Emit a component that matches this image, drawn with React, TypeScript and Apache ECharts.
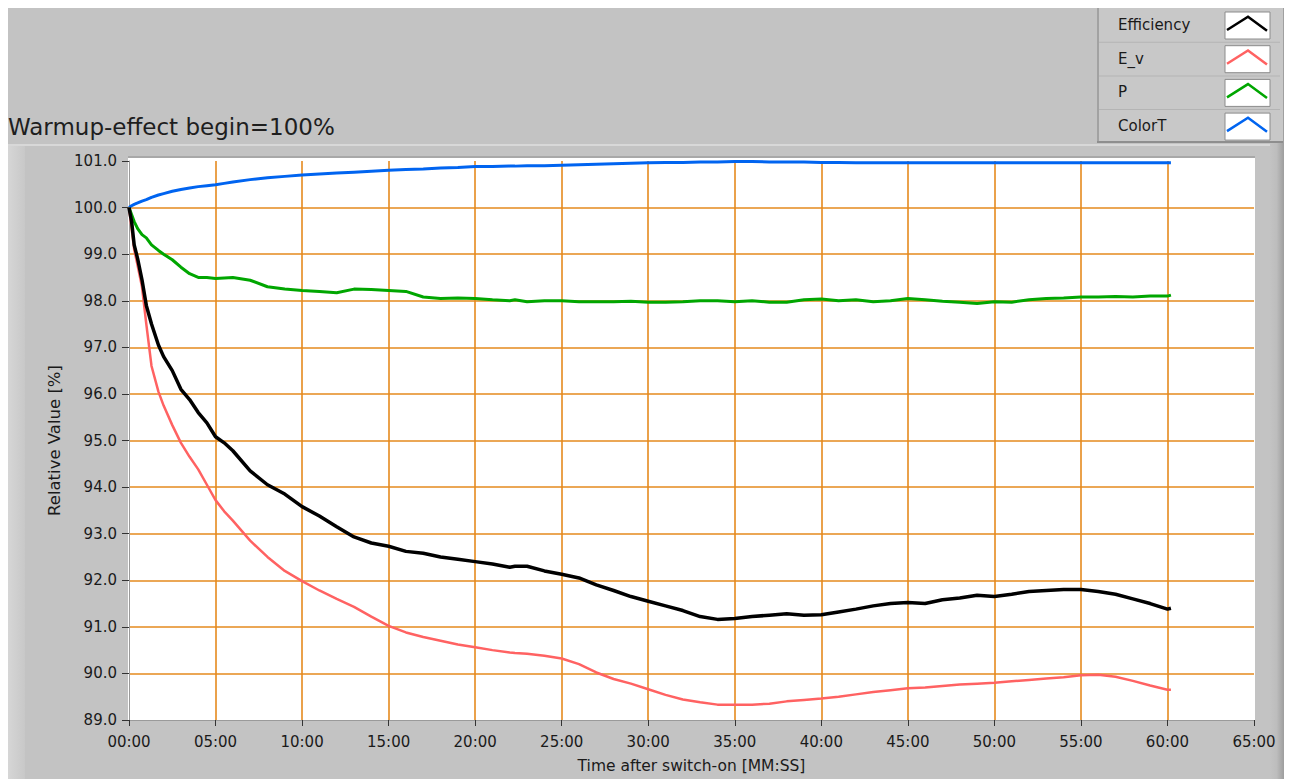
import React, { useEffect, useRef } from "react";
import * as echarts from "echarts";

// ---- data (minutes after switch-on) ----
const times = [
  0, 0.15, 0.3, 0.5, 0.75, 1, 1.3, 1.7, 2, 2.5, 3, 3.5, 4, 4.5, 5, 5.5, 6,
  7, 8, 9, 10, 11, 12, 13, 14, 15, 16, 17, 18, 19, 20, 21, 22,
  22.3,
  23, 24, 25, 26, 27, 28, 29, 30, 31, 32, 33, 34, 35, 36, 37, 38, 39, 40, 41, 42,
  43, 44, 45, 46, 47, 48, 49, 50, 51, 52, 53, 54, 55, 56, 57, 58, 59, 60,
  60.2,
];

const efficiency = [
  100, 99.7, 99.2, 98.9, 98.45, 97.9, 97.5, 97.05, 96.8, 96.5, 96.1, 95.88, 95.6, 95.38, 95.08, 94.95, 94.78,
  94.35, 94.05, 93.85, 93.58, 93.38, 93.15, 92.93, 92.8, 92.73, 92.62, 92.58, 92.5, 92.45, 92.4, 92.35, 92.28,
  92.3,
  92.3, 92.2, 92.13, 92.05, 91.9, 91.78, 91.65, 91.55, 91.45, 91.35, 91.22, 91.16, 91.18, 91.22, 91.25, 91.28, 91.25, 91.26, 91.32, 91.38,
  91.45, 91.5, 91.52, 91.5, 91.58, 91.62, 91.68, 91.65, 91.7, 91.76, 91.78, 91.8, 91.8, 91.76, 91.7, 91.6, 91.5, 91.38,
  91.4,
];

const eV = [
  100, 99.55, 99.1, 98.75, 98.3, 97.5, 96.6, 96.05, 95.75, 95.33, 94.95, 94.65, 94.38, 94.05, 93.72, 93.48, 93.28,
  92.85, 92.5, 92.2, 91.98, 91.78, 91.6, 91.43, 91.22, 91.02, 90.88, 90.78, 90.7, 90.62, 90.56, 90.5, 90.45,
  90.44,
  90.42, 90.38, 90.32, 90.2, 90.02, 89.88, 89.78, 89.66, 89.54, 89.44, 89.38, 89.33, 89.33, 89.33, 89.35, 89.4, 89.43, 89.46, 89.5, 89.55,
  89.6, 89.64, 89.68, 89.7, 89.73, 89.76, 89.78, 89.8, 89.83, 89.86, 89.89, 89.92, 89.96, 89.97, 89.93, 89.84, 89.74, 89.65,
  89.65,
];

const power = [
  100, 99.85, 99.7, 99.55, 99.42, 99.35, 99.2, 99.08, 99.0, 98.88, 98.72, 98.58, 98.5, 98.5, 98.48, 98.49, 98.5,
  98.44, 98.3, 98.25, 98.22, 98.2, 98.17, 98.25, 98.24, 98.22, 98.2, 98.08, 98.05, 98.06, 98.05, 98.02, 98.0,
  98.02,
  97.98, 98.0, 98.0, 97.98, 97.98, 97.98, 97.99, 97.97, 97.97, 97.98, 98.0, 98.0, 97.98, 98.0, 97.97, 97.97, 98.02, 98.04, 98.0, 98.02,
  97.98, 98.0, 98.05, 98.02, 97.99, 97.97, 97.94, 97.98, 97.97, 98.02, 98.05, 98.06, 98.08, 98.08, 98.09, 98.08, 98.1, 98.1,
  98.12,
];

const colorT = [
  100, 100.04, 100.07, 100.1, 100.14, 100.17, 100.22, 100.27, 100.3, 100.35, 100.39, 100.42, 100.45, 100.47, 100.49, 100.52, 100.55,
  100.6, 100.64, 100.67, 100.7, 100.72, 100.74, 100.76, 100.78, 100.8, 100.82, 100.83, 100.85, 100.86, 100.88, 100.88, 100.89,
  100.89,
  100.9, 100.9, 100.91, 100.92, 100.93, 100.94, 100.95, 100.96, 100.97, 100.97, 100.98, 100.98, 100.99, 100.99, 100.98, 100.98, 100.98, 100.97, 100.97, 100.96,
  100.96, 100.96, 100.96, 100.96, 100.96, 100.96, 100.96, 100.96, 100.96, 100.96, 100.96, 100.96, 100.96, 100.96, 100.96, 100.96, 100.96, 100.96,
  100.96,
];

const seriesNames = ["Efficiency", "E_v", "P", "ColorT"];
const seriesValues = [efficiency, eV, power, colorT];
const seriesColors = ["#000000", "#FF6262", "#00A600", "#0064F0"];
const seriesWidths = [3.5, 2.5, 3, 3];

const titleText = "Warmup-effect begin=100%";
const xName = "Time after switch-on [MM:SS]";
const yName = "Relative Value [%]";

const FONT = "DejaVu Sans";
const BG = "#C3C3C3";

export default function App() {
  const ref = useRef<HTMLDivElement>(null);

  useEffect(() => {
    document.documentElement.style.overflow = "hidden";
    const chart = echarts.init(ref.current as HTMLDivElement, null, { renderer: "svg" });

    const legendEls: any[] = [];
    const rowH = 33.7;
    legendEls.push({
      type: "rect",
      shape: { x: 1089, y: 0, width: 186, height: 135 },
      style: { fill: "#C8C8C8", stroke: null },
      z: 5,
    });
    legendEls.push({
      type: "rect",
      shape: { x: 1089, y: 0, width: 2, height: 135 },
      style: { fill: "#A2A2A2" },
      z: 6,
    });
    legendEls.push({
      type: "rect",
      shape: { x: 1089, y: 133, width: 186, height: 2 },
      style: { fill: "#8E8E8E" },
      z: 6,
    });
    seriesNames.forEach((name, i) => {
      const y0 = i * rowH;
      if (i > 0) {
        legendEls.push({
          type: "rect",
          shape: { x: 1091, y: y0, width: 181, height: 1 },
          style: { fill: "#B4B4B4" },
          z: 6,
        });
      }
      legendEls.push({
        type: "text",
        x: 1110,
        y: y0 + 17,
        style: {
          text: name,
          fill: "#1a1a1a",
          fontSize: 15,
          fontFamily: FONT,
          align: "left",
          verticalAlign: "middle",
        },
        z: 7,
      });
      legendEls.push({
        type: "rect",
        shape: { x: 1217, y: y0 + 4, width: 45, height: 27 },
        style: { fill: "#FFFFFF", stroke: "#8C8C8C", lineWidth: 1 },
        z: 7,
      });
      legendEls.push({
        type: "polyline",
        shape: {
          points: [
            [1219, y0 + 22],
            [1240, y0 + 8.7],
            [1259, y0 + 22.7],
          ],
        },
        style: { stroke: seriesColors[i], lineWidth: 2.5, fill: null },
        z: 8,
      });
    });

    const option: any = {
      animation: false,
      backgroundColor: BG,
      grid: { left: 121, top: 153, width: 1125, height: 560, show: false, containLabel: false },
      xAxis: {
        type: "value",
        min: 0,
        max: 65,
        interval: 5,
        name: xName,
        nameLocation: "middle",
        nameGap: 38,
        nameTextStyle: { fontSize: 15.5, fontFamily: FONT, color: "#1a1a1a" },
        axisLine: { show: true, lineStyle: { color: "#9A9A9A", width: 1 } },
        axisTick: { show: true, length: 6, lineStyle: { color: "#333333", width: 1 } },
        axisLabel: {
          margin: 14,
          fontSize: 15,
          fontFamily: FONT,
          color: "#1a1a1a",
          formatter: (v: number) => String(v).padStart(2, "0") + ":00",
        },
        splitLine: {
          show: true,
          showMinLine: false,
          showMaxLine: false,
          lineStyle: { color: "#E58A1E", width: 1.6 },
        },
      },
      yAxis: {
        type: "value",
        min: 89,
        max: 101,
        interval: 1,
        name: yName,
        nameLocation: "middle",
        nameGap: 64,
        nameTextStyle: { fontSize: 16.5, fontFamily: FONT, color: "#1a1a1a" },
        axisLine: { show: true, lineStyle: { color: "#9A9A9A", width: 1 } },
        axisTick: { show: true, length: 7, lineStyle: { color: "#333333", width: 1 } },
        axisLabel: {
          margin: 12,
          fontSize: 15,
          fontFamily: FONT,
          color: "#1a1a1a",
          formatter: (v: number) => v.toFixed(1),
        },
        splitLine: {
          show: true,
          showMinLine: false,
          showMaxLine: false,
          lineStyle: { color: "#E58A1E", width: 1.6 },
        },
      },
      graphic: [
        {
          type: "rect",
          shape: { x: 0, y: 137, width: 17, height: 634 },
          style: {
            fill: new echarts.graphic.LinearGradient(0, 0, 1, 0, [
              { offset: 0, color: "#D6D6D6" },
              { offset: 1, color: "#C8C8C8" },
            ]),
          },
          z: -5,
        },
        {
          type: "rect",
          shape: { x: 1262, y: 0, width: 22, height: 771 },
          style: {
            fill: new echarts.graphic.LinearGradient(0, 0, 1, 0, [
              { offset: 0, color: BG },
              { offset: 0.3, color: "#BDBDBD" },
              { offset: 1, color: "#7C7C7C" },
            ]),
          },
          z: -5,
        },
        {
          type: "rect",
          shape: { x: 0, y: 136, width: 1262, height: 2 },
          style: { fill: "#D8D8D8" },
          z: -5,
        },
        {
          type: "rect",
          shape: { x: 120, y: 150, width: 1127, height: 563 },
          style: { fill: "#FFFFFF" },
          z: -1,
        },
        {
          type: "rect",
          shape: { x: 120, y: 148, width: 1127, height: 2 },
          style: { fill: "#A8A8A8" },
          z: -1,
        },
        {
          type: "text",
          x: 0,
          y: 119,
          style: {
            text: titleText,
            fill: "#1e1e1e",
            fontSize: 23,
            fontFamily: FONT,
            align: "left",
            verticalAlign: "middle",
          },
          z: 5,
        },
        ...legendEls,
      ],
      series: seriesNames.map((name, i) => ({
        name,
        type: "line",
        showSymbol: false,
        symbol: "none",
        data: times.map((t, k) => [t, seriesValues[i][k]]),
        lineStyle: { color: seriesColors[i], width: seriesWidths[i] },
        itemStyle: { color: seriesColors[i] },
        z: 10 - i,
      })),
    };

    chart.setOption(option);
    return () => chart.dispose();
  }, []);

  return <div ref={ref} style={{ width: 1284, height: 771 }} />;
}
